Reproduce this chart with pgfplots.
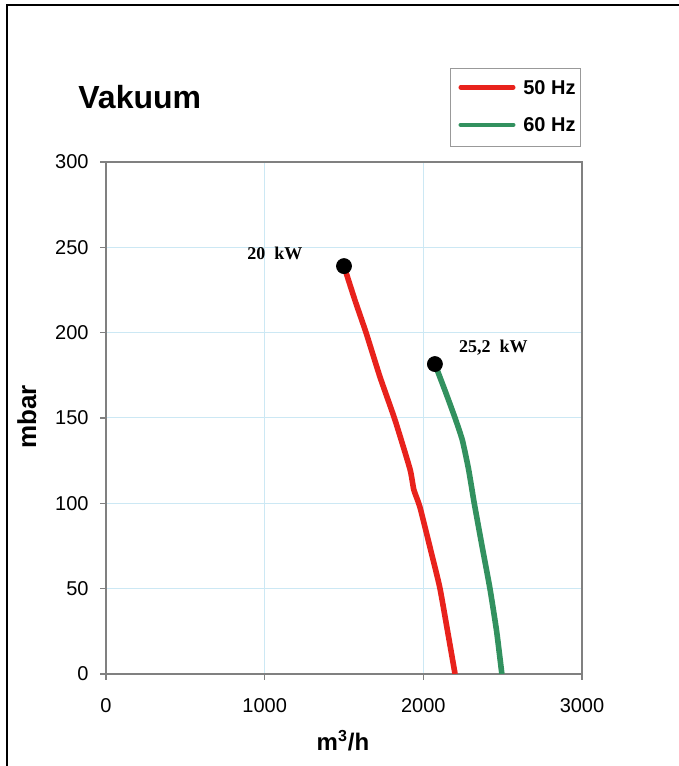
\documentclass[border=0pt]{standalone}
\usepackage{fontspec}
\setmainfont{Liberation Sans}
\newfontfamily\labelserif{Liberation Serif}
\usepackage{pgfplots}
\pgfplotsset{compat=1.18}
\definecolor{curvered}{RGB}{232,34,28}
\definecolor{curvegreen}{RGB}{50,145,95}
\definecolor{gridblue}{RGB}{204,232,244}
\definecolor{framegray}{RGB}{128,128,128}

\begin{document}
\begin{tikzpicture}
\useasboundingbox (0pt,0pt) rectangle (339.5pt,383pt);
% outer frame (only top and left edge visible)
\draw[line width=1pt] (3.5pt,0pt) -- (3.5pt,380.5pt) -- (339.5pt,380.5pt);
\begin{axis}[
  at={(53pt,46pt)}, anchor=south west,
  scale only axis, width=238pt, height=256pt,
  xmin=0, xmax=3000, ymin=0, ymax=300,
  xtick={0,1000,2000,3000}, ytick={0,50,...,300},
  tick align=outside, xtick pos=left, ytick pos=left,
  major tick length=3pt,
  grid=major, major grid style={gridblue, line width=0.5pt},
  axis line style={framegray, line width=0.75pt},
  every tick/.style={framegray, line width=0.75pt},
  ticklabel style={font=\fontsize{10}{12}\selectfont},
  yticklabel style={inner sep=0pt, xshift=-5.5pt},
  xticklabel style={inner sep=0pt, yshift=-9pt},
  /pgf/number format/assume math mode=true,
  /pgf/number format/1000 sep={},
  legend style={at={(0.998,1.1836)}, anchor=north east,
    draw=framegray!80, line width=0.5pt,
    font=\bfseries\fontsize{10}{12}\selectfont,
    inner xsep=2.5pt, inner ysep=5.8pt, row sep=10.3pt, column sep=2.5pt,
    nodes={inner sep=0pt}},
  legend cell align=left,
  legend image code/.code={
    \path (0pt,0pt) (28.5pt,0pt);
    \draw[#1, line width=2.2pt, line cap=round] (1.1pt,0.6pt) -- (27.4pt,0.6pt);},
]
\addplot[curvered, line width=2.8pt, line join=round, smooth, tension=0.3] coordinates {
  (1500,239) (1569,219) (1639,200) (1727,174) (1821,149) (1916,120)
  (1940,108) (1978,98) (2040,75) (2103,51) (2153,25) (2200,0)};
\addlegendentry{50 Hz}
\addplot[curvegreen, line width=2.8pt, line join=round, smooth, tension=0.3] coordinates {
  (2073,181.6) (2137,166) (2200,150) (2246,137) (2285,120) (2321,100)
  (2370,75) (2420,50) (2462,25) (2495,0)};
\addlegendentry{60 Hz}
\addplot[forget plot, only marks, mark=*, mark size=3.75pt, black] coordinates {
  (1500,239) (2073,181.6)};
\node[font=\labelserif\bfseries\fontsize{9}{11}\selectfont, anchor=base] at (axis cs:1065,242.6) {20~~kW};
\node[font=\labelserif\bfseries\fontsize{9}{11}\selectfont, anchor=base] at (axis cs:2442,188.5) {25,2~~kW};
\end{axis}
\node[anchor=base west, inner sep=0pt, font=\bfseries\fontsize{16}{19}\selectfont] at (39pt,328.5pt) {Vakuum};
\node[anchor=base, inner sep=0pt, font=\bfseries\fontsize{12}{14}\selectfont] at (171.5pt,7.65pt) {m\textsuperscript{3}/h};
\node[anchor=base, rotate=90, inner sep=0pt, font=\bfseries\fontsize{13}{15}\selectfont] at (18pt,174.5pt) {mbar};
\end{tikzpicture}
\end{document}
